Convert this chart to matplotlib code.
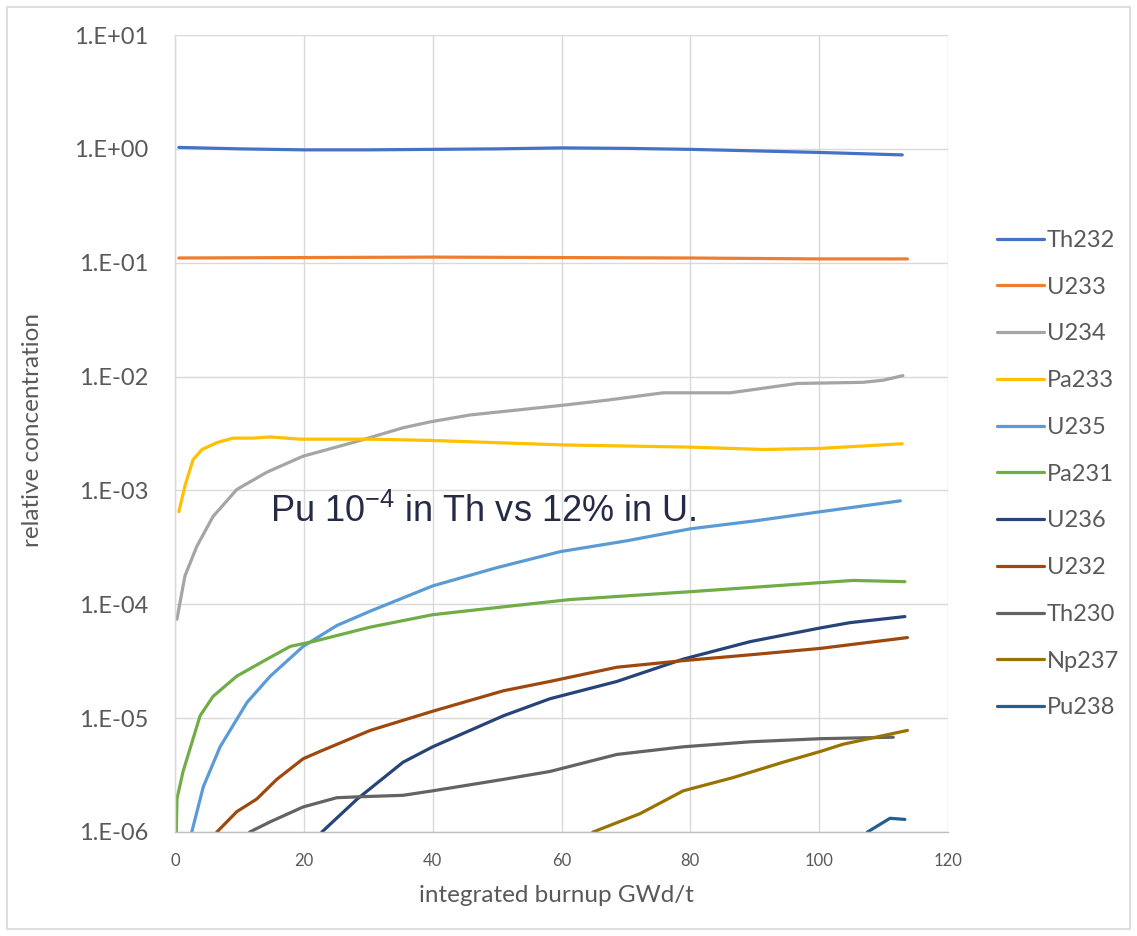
import matplotlib
matplotlib.use("Agg")
import matplotlib.pyplot as plt
from matplotlib.patches import Rectangle

# ---------------- data ----------------
th232_x = [0.6, 10, 20, 30, 40, 50, 60, 70, 80, 90, 100, 107, 112.9]
th232_y = [1.03, 1.0, 0.98, 0.98, 0.99, 1.0, 1.02, 1.01, 0.99, 0.96, 0.93, 0.905, 0.885]

u233_x = [0.6, 20, 40, 60, 80, 100, 113.7]
u233_y = [0.110, 0.111, 0.112, 0.111, 0.110, 0.108, 0.108]

u234_x = [0.3, 1.55, 3.4, 5.9, 9.6, 14.3, 19.9, 28.3, 35.4, 39.6, 45.8, 60.2, 67, 75.8, 86.2, 96.6, 106.8, 110, 113]
u234_y = [7.4e-5, 1.78e-4, 3.24e-4, 5.9e-4, 1.02e-3, 1.45e-3, 2.0e-3, 2.7e-3, 3.55e-3, 4.0e-3, 4.6e-3,
          5.6e-3, 6.2e-3, 7.2e-3, 7.2e-3, 8.7e-3, 8.9e-3, 9.3e-3, 1.02e-2]

pa233_x = [0.6, 1.55, 2.8, 4.2, 6.5, 9, 12.1, 14.8, 19.4, 30.3, 39.6, 60.2, 80, 91.3, 100.2, 112.9]
pa233_y = [6.5e-4, 1.1e-3, 1.86e-3, 2.29e-3, 2.63e-3, 2.88e-3, 2.88e-3, 2.95e-3, 2.82e-3, 2.82e-3,
           2.75e-3, 2.51e-3, 2.4e-3, 2.29e-3, 2.34e-3, 2.57e-3]

u235_x = [2.3, 2.6, 4.4, 7, 11.2, 14.8, 19.9, 25.1, 30.3, 40, 50, 59.8, 70, 80, 90, 100.2, 112.6]
u235_y = [7e-7, 1e-6, 2.5e-6, 5.6e-6, 1.38e-5, 2.34e-5, 4.27e-5, 6.5e-5, 8.7e-5, 1.45e-4, 2.1e-4,
          2.9e-4, 3.6e-4, 4.6e-4, 5.4e-4, 6.5e-4, 8.1e-4]

pa231_x = [0.1, 0.3, 1.25, 3.9, 5.9, 9.6, 14.3, 17.9, 21.4, 30.3, 40, 51, 61.3, 80, 100.2, 105.3, 113.3]
pa231_y = [5e-7, 1.95e-6, 3.4e-6, 1.05e-5, 1.55e-5, 2.34e-5, 3.3e-5, 4.27e-5, 4.7e-5, 6.3e-5, 8.1e-5,
           9.5e-5, 1.1e-4, 1.29e-4, 1.55e-4, 1.62e-4, 1.58e-4]

u236_x = [22.5, 22.8, 28.3, 35.4, 40, 51, 58.2, 68.6, 78.9, 89.3, 100.2, 104.8, 113.3]
u236_y = [8.9e-7, 1e-6, 1.95e-6, 4.1e-6, 5.6e-6, 1.05e-5, 1.48e-5, 2.1e-5, 3.3e-5, 4.7e-5, 6.2e-5, 6.9e-5, 7.8e-5]

u232_x = [6.0, 6.5, 9.6, 12.7, 15.8, 19.9, 22.5, 30.3, 40, 51, 58.2, 68.6, 78.9, 89.3, 100.2, 113.7]
u232_y = [8e-7, 1e-6, 1.51e-6, 1.95e-6, 2.9e-6, 4.4e-6, 5.1e-6, 7.8e-6, 1.15e-5, 1.74e-5, 2.1e-5,
          2.8e-5, 3.2e-5, 3.6e-5, 4.1e-5, 5.1e-5]

th230_x = [11.2, 11.6, 14.8, 19.9, 25.1, 28.7, 35.4, 40, 51, 58.2, 68.6, 78.9, 89.3, 100.2, 111.5]
th230_y = [8.9e-7, 1e-6, 1.23e-6, 1.66e-6, 2.0e-6, 2.04e-6, 2.1e-6, 2.3e-6, 2.9e-6, 3.4e-6, 4.8e-6,
           5.6e-6, 6.2e-6, 6.6e-6, 6.8e-6]

np237_x = [64, 64.9, 72.2, 78.9, 86.6, 94.4, 100.2, 103.7, 113.7]
np237_y = [8.9e-7, 1e-6, 1.45e-6, 2.3e-6, 3.0e-6, 4.1e-6, 5.1e-6, 5.9e-6, 7.8e-6]

pu238_x = [107, 107.5, 111, 113.3]
pu238_y = [9e-7, 1e-6, 1.32e-6, 1.29e-6]

labels = ["Th232", "U233", "U234", "Pa233", "U235", "Pa231", "U236", "U232", "Th230", "Np237", "Pu238"]
xs = [th232_x, u233_x, u234_x, pa233_x, u235_x, pa231_x, u236_x, u232_x, th230_x, np237_x, pu238_x]
ys = [th232_y, u233_y, u234_y, pa233_y, u235_y, pa231_y, u236_y, u232_y, th230_y, np237_y, pu238_y]
colors = ["#4472C4", "#ED7D31", "#A5A5A5", "#FFC000", "#5B9BD5", "#70AD47",
          "#264478", "#9E480E", "#636363", "#997300", "#255E91"]

ytick_vals = [1e-6, 1e-5, 1e-4, 1e-3, 1e-2, 1e-1, 1e0, 1e1]
ytick_labels = ["1.E-06", "1.E-05", "1.E-04", "1.E-03", "1.E-02", "1.E-01", "1.E+00", "1.E+01"]
xtick_vals = [0, 20, 40, 60, 80, 100, 120]

# ---------------- figure ----------------
W, H = 1137, 936
fig = plt.figure(figsize=(W / 100, H / 100), dpi=100)
fig.patch.set_facecolor("white")

# outer chart border
fig.patches.append(Rectangle((7 / W, 7 / H), (W - 14) / W, (H - 14) / H, transform=fig.transFigure,
                             fill=False, edgecolor="#D9D9D9", linewidth=1.2))

L, R, T, B = 175, 948, 35, 832
ax = fig.add_axes([L / W, 1 - B / H, (R - L) / W, (B - T) / H])

tick_color = "#595959"
font_main = ["Lato", "DejaVu Sans"]

for x, y, c, lab in zip(xs, ys, colors, labels):
    ax.plot(x, y, color=c, linewidth=2.3, label=lab, solid_capstyle="round")

ax.set_yscale("log")
ax.set_ylim(1e-6, 1e1)
ax.set_xlim(0, 120)
ax.set_yticks(ytick_vals)
ax.set_yticklabels(ytick_labels)
ax.yaxis.set_minor_locator(matplotlib.ticker.NullLocator())
ax.set_xticks(xtick_vals)
ax.set_xticklabels([str(v) for v in xtick_vals])

ax.grid(True, which="major", color="#D9D9D9", linewidth=1.0)
ax.set_axisbelow(True)
for s in ["top", "right"]:
    ax.spines[s].set_visible(False)
ax.spines["left"].set_color("#D9D9D9")
ax.spines["bottom"].set_color("#BFBFBF")
ax.spines["left"].set_linewidth(1.0)
ax.spines["bottom"].set_linewidth(1.0)

ax.tick_params(axis="both", length=0)
ax.tick_params(axis="y", pad=19, labelsize=17, labelcolor=tick_color)
ax.tick_params(axis="x", pad=15, labelsize=12, labelcolor=tick_color)
for lbl in ax.get_yticklabels() + ax.get_xticklabels():
    lbl.set_family(font_main)

# axis titles
fig.text(33 / W, 1 - 430 / H, "relative concentration", rotation=90, ha="center", va="center",
         fontsize=17.5, color=tick_color, family=font_main)
fig.text(556 / W, 1 - 896 / H, "integrated burnup GWd/t", ha="center", va="center",
         fontsize=17.5, color=tick_color, family=font_main)

# annotation
plt.rcParams["mathtext.fontset"] = "custom"
plt.rcParams["mathtext.rm"] = "Liberation Sans"
ax.text(14.7, 10 ** -3.28, "Pu 10$^{\\mathrm{-4}}$ in Th vs 12% in U.", fontsize=26,
        color="#252A45", family=["Liberation Sans", "DejaVu Sans"], ha="left", va="baseline")

# legend
leg = fig.legend(loc="upper left", bbox_to_anchor=(997 / W, 1 - 230 / H), frameon=False,
                 borderpad=0, borderaxespad=0, handlelength=2.0, handletextpad=0.1,
                 labelspacing=1.09, prop={"family": font_main, "size": 17})
for t in leg.get_texts():
    t.set_color(tick_color)
for h in leg.get_lines():
    h.set_linewidth(2.3)

fig.savefig("out.png", dpi=100, facecolor="white")
